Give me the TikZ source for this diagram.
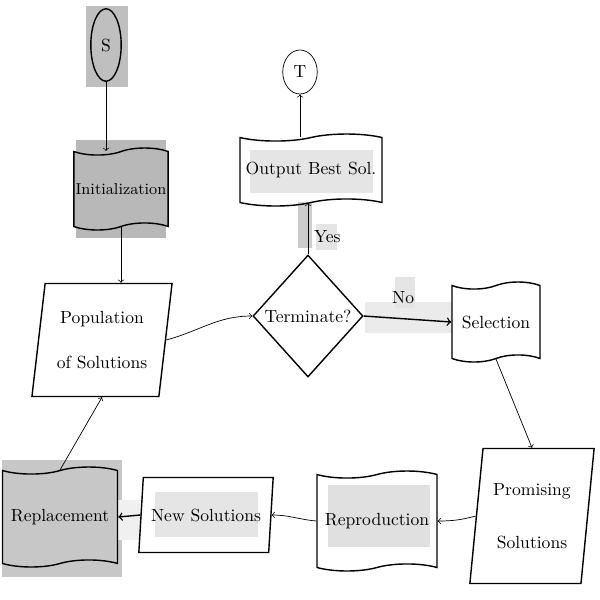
\documentclass[tikz,border=0pt]{standalone}
\usetikzlibrary{shapes.geometric}
\usetikzlibrary{shapes.symbols}
\begin{document}
\begin{tikzpicture}[x=0.02cm,y=-0.02cm,
  box/.style={draw,thick,tape,tape bend height=4pt,inner sep=1pt,align=center},
  slant/.style={draw,thick,trapezium,trapezium stretches=true,trapezium left angle=80,trapezium right angle=100,inner sep=1pt,align=center},
  flow/.style={->,thin}]
\useasboundingbox (0,0) rectangle (600,600);
% grey patches
\fill[black!25] (86,6) rectangle (128,87);
\fill[black!28] (76,140) rectangle (166,238);
\fill[black!10] (250,150) rectangle (373,193);
\fill[black!20] (298,202) rectangle (312,248);
\fill[black!10] (316,224) rectangle (337,250);
\fill[black!8] (365,302) rectangle (452,333);
\fill[black!10] (395,277) rectangle (415,308);
\fill[black!12] (328,485) rectangle (430,547);
\fill[black!10] (155,492) rectangle (258,537);
\fill[black!22] (2,460) rectangle (122,577);
\fill[black!6] (118,500) rectangle (140,540);

 \node[draw,thick,ellipse,minimum width=0.55cm,minimum height=1.45cm] (s) at (106,45) {S};
 \node[box,fill=black!28,font=\small,minimum width=1.74cm,minimum height=1.64cm] (init) at (121,189) {Initialization};
 \node[slant,minimum width=2.82cm,minimum height=2.26cm] (pop) at (102,340) {Population\\[14pt] of Solutions};
 \node[draw,thick,diamond,aspect=0.9,minimum width=2.2cm,minimum height=2.44cm,inner sep=0pt] (term) at (308,316) {Terminate?};
 \node[box,minimum width=2.84cm,minimum height=1.44cm] (out) at (311,170) {Output Best Sol.};
 \node[draw,thin,ellipse,minimum width=0.64cm,minimum height=0.88cm] (t) at (300,72) {T};
 \node[box,minimum width=1.76cm,minimum height=1.6cm] (sel) at (496,322) {Selection};
 \node[slant,trapezium left angle=81,trapezium right angle=99,minimum width=2.5cm,minimum height=2.7cm] (prom) at (532,516) {Promising\\[18pt] Solutions};
 \node[box,minimum width=2.4cm,minimum height=2cm] (rep) at (377,521) {Reproduction};
 \node[slant,trapezium left angle=76,trapezium right angle=104,minimum width=2.7cm,minimum height=1.5cm] (new) at (206,515) {New Solutions};
 \node[box,fill=black!22,minimum width=2.3cm,minimum height=2cm] (repl) at (60,517) {Replacement};

\draw[flow] (s.south) -- (s.south |- init.north);
\draw[flow] (init.south) -- (init.south |- pop.north);
\draw[flow] (pop.east) to[out=15,in=180] (term.west);
\draw[flow] (term.north) -- node[right,pos=0.35]{Yes} (term.north |- out.south);
\draw[flow] (t.south |- out.north) -- (t.south);
\draw[->,thick] (term.east) -- node[above=5pt,pos=0.45]{No} (sel.west);
\draw[flow] (sel.south) -- (prom.north);
\draw[flow] (prom.west) to[out=195,in=0] (rep.east);
\draw[flow] (rep.west) to[out=175,in=0] (new.east);
\draw[flow,thick] (new.west) -- (repl.east);
\draw[flow] (repl.north) -- (pop.south);
\end{tikzpicture}
\end{document}
